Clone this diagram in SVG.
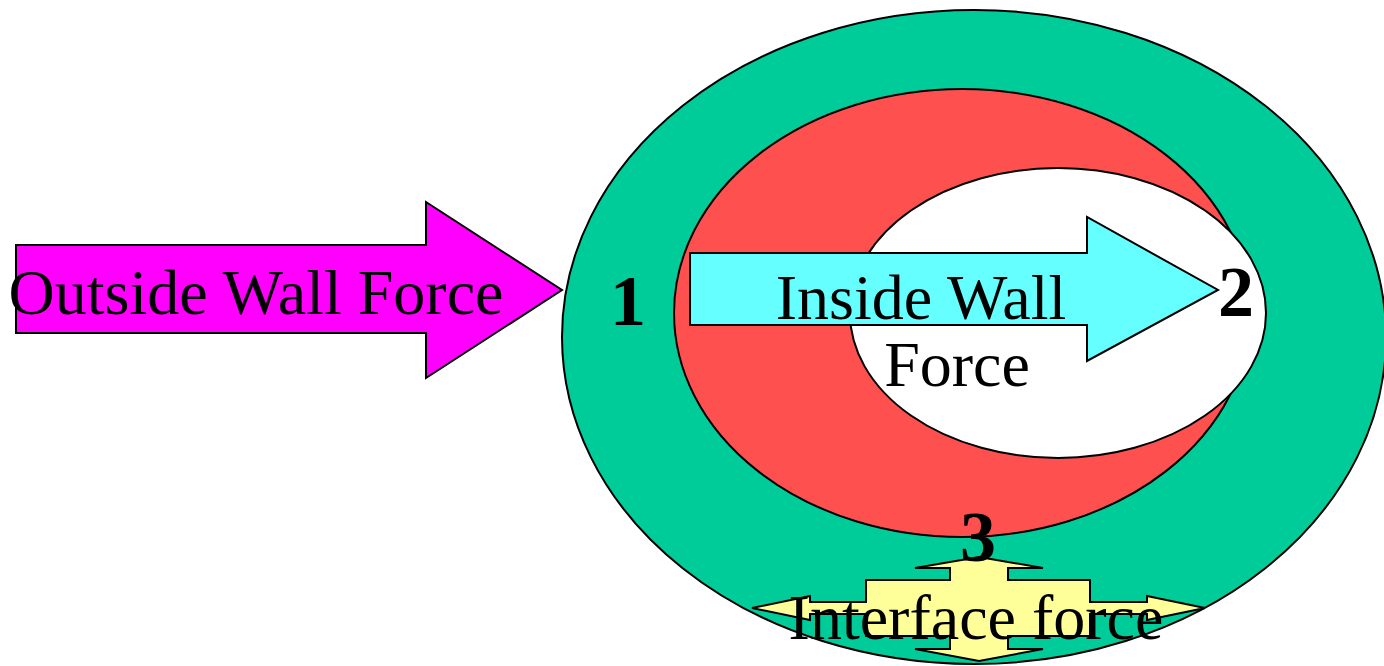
<svg xmlns="http://www.w3.org/2000/svg" width="1384" height="666" viewBox="0 0 1384 666">
<style>
.s{stroke:#000;stroke-width:2}
.t{font-family:"Liberation Serif","Times New Roman",serif;font-size:64px;fill:#000}
.n{font-family:"Liberation Serif","Times New Roman",serif;font-size:72px;font-weight:bold;fill:#000}
</style>
<rect width="1384" height="666" fill="#fff"/>
<g id="outer"><ellipse class="s" cx="974" cy="337" rx="412" ry="327" fill="#00CC99"/></g>
<g id="middle"><ellipse class="s" cx="962" cy="313" rx="288" ry="224" fill="#FF5050"/></g>
<g id="inner"><ellipse class="s" cx="1058" cy="313" rx="208" ry="145" fill="#FFFFFF"/></g>
<g id="connectors">
<g id="outside-arrow">
<polygon class="s" fill="#FF00FF" points="16,245 426,245 426,202 562,290 426,378 426,333 16,333"/>
<text class="t" x="256" y="314" text-anchor="middle">Outside Wall Force</text>
</g>
<g id="inside-arrow">
<polygon class="s" fill="#66FFFF" points="690,253 1087,253 1087,217 1218,290 1087,361 1087,325 690,325"/>
<text class="t" x="921" y="319" text-anchor="middle">Inside Wall</text>
<text class="t" x="957" y="386" text-anchor="middle">Force</text>
</g>
<g id="interface-arrow">
<polygon class="s" fill="#FFFF99" points="979,557 1043,568 1008,568 1008,580 1090,580 1090,602 1147,602 1147,596 1205,608 1147,620 1147,614 1090,614 1090,636 1008,636 1008,649 1043,649 979,661 915,649 950,649 950,636 866,636 866,614 810,614 810,620 752,608 810,596 810,602 866,602 866,580 950,580 950,568 915,568"/>
<text class="t" x="976" y="639" text-anchor="middle">Interface force</text>
</g>
</g>
<g id="label1"><text class="n" x="628" y="325" text-anchor="middle">1</text></g>
<g id="label2"><text class="n" x="1236" y="316" text-anchor="middle">2</text></g>
<g id="label3"><text class="n" x="978" y="561" text-anchor="middle">3</text></g>
</svg>
